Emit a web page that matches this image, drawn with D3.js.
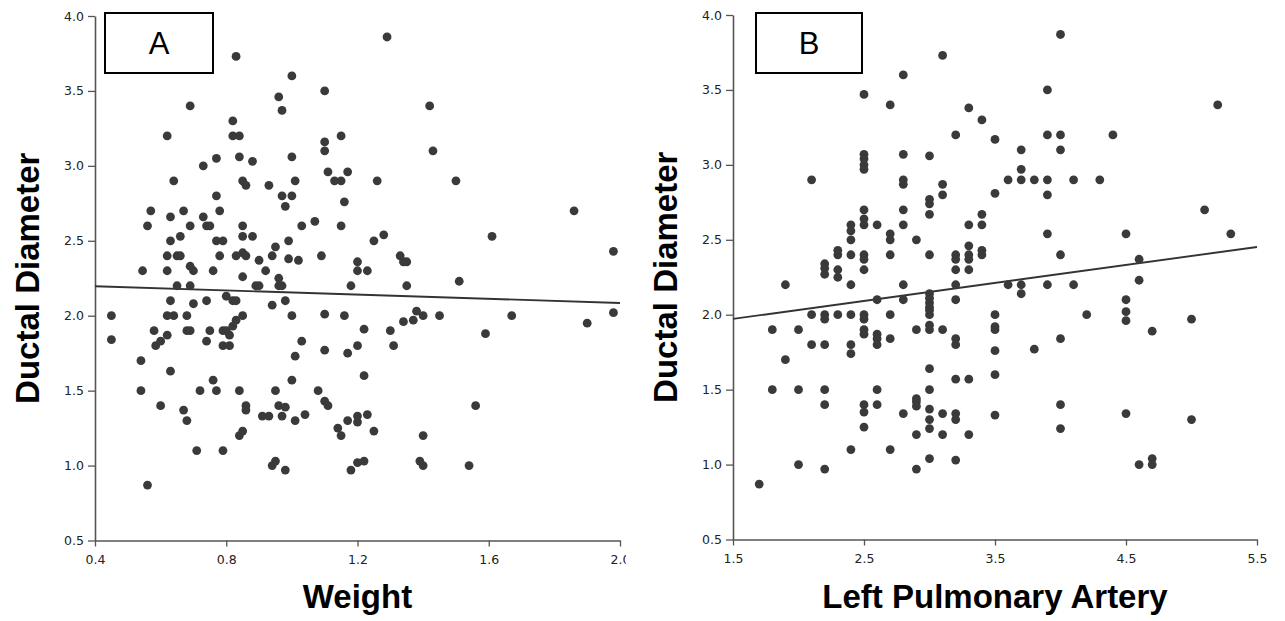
<!DOCTYPE html>
<html>
<head>
<meta charset="utf-8">
<script src="https://cdn.jsdelivr.net/npm/d3@7"></script>
<style>
body { margin: 0; background: #fff; }
svg { display: block; }
</style>
</head>
<body>
<svg width="1285" height="621"></svg>
<script>
// [x, ductal diameter]
var weightPoints = [
  [0.83,3.73],[1.00,3.60],[1.10,3.50],[0.96,3.46],[0.97,3.37],[0.69,3.40],[0.82,3.30],[0.62,3.20],[0.82,3.20],[0.84,3.20],
  [1.10,3.16],[1.10,3.10],[1.29,3.86],[1.42,3.40],[1.15,3.20],[1.43,3.10],
  [0.73,3.00],[0.77,3.05],[0.84,3.06],[0.88,3.03],[1.00,3.06],[1.11,2.96],[1.17,2.96],
  [0.64,2.90],[0.85,2.90],[0.86,2.87],[0.93,2.87],[1.01,2.90],[1.13,2.90],[1.15,2.90],[1.26,2.90],[1.50,2.90],
  [0.97,2.80],[1.00,2.80],[0.77,2.80],[0.98,2.73],[1.16,2.76],
  [0.57,2.70],[0.67,2.70],[0.78,2.70],[1.86,2.70],
  [0.56,2.60],[0.63,2.66],[0.73,2.66],[0.69,2.60],[0.74,2.60],[0.75,2.60],[0.85,2.60],[1.03,2.60],[1.07,2.63],[1.15,2.60],
  [0.63,2.50],[0.66,2.53],[0.77,2.50],[0.79,2.50],[0.85,2.53],[0.88,2.53],[0.95,2.46],[0.99,2.50],[1.28,2.54],[1.25,2.50],[1.61,2.53],
  [0.62,2.40],[0.65,2.40],[0.66,2.40],[0.69,2.33],[0.70,2.30],[0.78,2.40],[0.83,2.40],[0.85,2.42],[0.86,2.40],[0.90,2.37],
  [0.94,2.40],[0.99,2.38],[1.02,2.37],[1.09,2.40],[1.20,2.36],[1.98,2.43],[1.33,2.40],[1.34,2.36],[1.35,2.36],
  [0.545,2.30],[0.62,2.30],[0.76,2.30],[0.92,2.30],[1.20,2.30],[1.23,2.30],[0.85,2.26],[0.96,2.25],
  [0.65,2.20],[0.69,2.20],[0.89,2.20],[0.90,2.20],[0.96,2.20],[0.97,2.20],[1.18,2.20],[1.35,2.20],[1.51,2.23],
  [0.80,2.13],[0.63,2.10],[0.74,2.10],[0.82,2.10],[0.83,2.10],[0.98,2.10],[0.70,2.08],[0.94,2.07],
  [0.45,2.00],[0.62,2.00],[0.64,2.00],[0.68,2.00],[0.85,2.00],[1.00,2.00],[1.10,2.01],[1.16,2.00],[1.38,2.03],[1.40,2.00],
  [1.45,2.00],[1.67,2.00],[1.98,2.02],[1.34,1.96],[1.37,1.97],[1.90,1.95],
  [0.83,1.97],[0.82,1.93],[1.22,1.91],[1.30,1.90],[1.59,1.88],
  [0.58,1.90],[0.68,1.90],[0.69,1.90],[0.75,1.90],[0.79,1.90],[0.80,1.90],[0.62,1.87],[0.81,1.87],
  [0.45,1.84],[0.60,1.83],[0.74,1.83],[1.03,1.83],[0.585,1.80],[0.79,1.80],[0.81,1.80],[1.20,1.80],[1.31,1.80],[1.17,1.75],
  [1.10,1.77],[1.01,1.73],
  [0.54,1.70],[0.63,1.63],[1.22,1.60],[0.76,1.57],[1.00,1.57],
  [0.54,1.50],[0.72,1.50],[0.77,1.50],[0.84,1.50],[0.95,1.50],[1.08,1.50],[1.10,1.43],[1.11,1.40],[1.56,1.40],
  [0.60,1.40],[0.67,1.37],[0.68,1.30],[0.86,1.40],[0.86,1.37],[0.91,1.33],[0.93,1.33],[0.96,1.40],[0.98,1.39],[0.97,1.33],
  [1.01,1.30],[1.04,1.34],
  [0.84,1.20],[0.85,1.23],[1.14,1.25],[1.15,1.20],[1.17,1.30],[1.20,1.33],[1.20,1.29],[1.23,1.34],[1.25,1.23],[1.40,1.20],
  [0.71,1.10],[0.79,1.10],
  [0.94,1.00],[0.95,1.03],[0.98,0.97],[1.18,0.97],[1.20,1.02],[1.22,1.03],[1.39,1.03],[1.40,1.00],[1.54,1.00],
  [0.56,0.87]
];

var lpaPoints = [
  [1.7,0.87],
  [1.8,1.90],[1.8,1.50],
  [1.9,2.20],[1.9,1.70],
  [2.0,1.90],[2.0,1.50],[2.0,1.00],
  [2.1,2.90],[2.1,2.00],[2.1,1.80],
  [2.2,2.34],[2.2,2.31],[2.2,2.27],[2.2,2.00],[2.2,1.97],[2.2,1.80],[2.2,1.50],[2.2,1.40],[2.2,0.97],
  [2.3,2.43],[2.3,2.40],[2.3,2.30],[2.3,2.25],[2.3,2.00],
  [2.4,2.60],[2.4,2.56],[2.4,2.50],[2.4,2.40],[2.4,2.20],[2.4,2.00],[2.4,1.80],[2.4,1.74],[2.4,1.10],
  [2.5,3.47],[2.5,3.07],[2.5,3.04],[2.5,3.00],[2.5,2.97],[2.5,2.70],[2.5,2.64],[2.5,2.60],[2.5,2.40],[2.5,2.37],[2.5,2.30],
  [2.5,2.00],[2.5,1.97],[2.5,1.90],[2.5,1.87],[2.5,1.40],[2.5,1.35],[2.5,1.25],
  [2.6,2.60],[2.6,2.10],[2.6,1.87],[2.6,1.84],[2.6,1.80],[2.6,1.50],[2.6,1.40],
  [2.7,3.40],[2.7,2.54],[2.7,2.50],[2.7,2.40],[2.7,2.00],[2.7,1.84],[2.7,1.10],
  [2.8,3.60],[2.8,3.07],[2.8,2.90],[2.8,2.87],[2.8,2.70],[2.8,2.60],[2.8,2.20],[2.8,2.10],[2.8,1.34],
  [2.9,2.50],[2.9,1.90],[2.9,1.44],[2.9,1.42],[2.9,1.39],[2.9,1.20],[2.9,0.97],
  [3.0,3.06],[3.0,2.77],[3.0,2.74],[3.0,2.67],[3.0,2.40],[3.0,2.14],[3.0,2.11],[3.0,2.08],[3.0,2.05],[3.0,2.03],[3.0,2.00],
  [3.0,1.93],[3.0,1.90],[3.0,1.64],[3.0,1.50],[3.0,1.37],[3.0,1.30],[3.0,1.24],[3.0,1.04],
  [3.1,3.73],[3.1,2.87],[3.1,2.80],[3.1,1.90],[3.1,1.34],[3.1,1.20],
  [3.2,3.20],[3.2,2.40],[3.2,2.37],[3.2,2.30],[3.2,2.20],[3.2,2.10],[3.2,1.84],[3.2,1.80],[3.2,1.57],[3.2,1.34],[3.2,1.30],[3.2,1.03],
  [3.3,3.38],[3.3,2.60],[3.3,2.46],[3.3,2.40],[3.3,2.37],[3.3,2.30],[3.3,1.57],[3.3,1.20],
  [3.4,3.30],[3.4,2.67],[3.4,2.60],[3.4,2.43],[3.4,2.40],
  [3.5,3.17],[3.5,2.81],[3.5,2.00],[3.5,1.92],[3.5,1.90],[3.5,1.76],[3.5,1.60],[3.5,1.33],
  [3.6,2.90],[3.6,2.20],
  [3.7,3.10],[3.7,2.97],[3.7,2.90],[3.7,2.20],[3.7,2.14],
  [3.8,2.90],[3.8,1.77],
  [3.9,3.50],[3.9,3.20],[3.9,2.90],[3.9,2.80],[3.9,2.54],[3.9,2.20],
  [4.0,3.87],[4.0,3.20],[4.0,3.10],[4.0,2.40],[4.0,1.84],[4.0,1.40],[4.0,1.24],
  [4.1,2.90],[4.1,2.20],
  [4.2,2.00],
  [4.3,2.90],
  [4.4,3.20],
  [4.5,2.54],[4.5,2.10],[4.5,2.02],[4.5,1.96],[4.5,1.34],
  [4.6,2.37],[4.6,2.23],[4.6,1.00],
  [4.7,1.89],[4.7,1.04],[4.7,1.00],
  [5.0,1.97],[5.0,1.30],
  [5.1,2.70],
  [5.2,3.40],
  [5.3,2.54]
];

var diameterTicks = [0.5, 1.0, 1.5, 2.0, 2.5, 3.0, 3.5, 4.0];
var weightTicks = [0.4, 0.8, 1.2, 1.6, 2.0];
var lpaTicks = [1.5, 2.5, 3.5, 4.5, 5.5];

// fitted lines: [intercept, slope]
var weightFit = [2.225, -0.07];
var lpaFit = [1.792, 0.12];

var svg = d3.select("svg");

var panels = [
  { tag: "A", xTitle: "Weight", points: weightPoints, ticks: weightTicks, fit: weightFit,
    domain: [0.4, 2.0], left: 95, right: 620, top: 16, bottom: 540.5,
    box: [105, 13, 108, 60], yTitleX: 39, clipRight: 626 },
  { tag: "B", xTitle: "Left Pulmonary Artery", points: lpaPoints, ticks: lpaTicks, fit: lpaFit,
    domain: [1.5, 5.5], left: 733, right: 1257, top: 15, bottom: 539.5,
    box: [756, 13, 106, 60], yTitleX: 677, clipRight: 1285 }
];

panels.forEach(function(p, i) {
  svg.append("clipPath").attr("id", "clip" + i)
    .append("rect").attr("x", p.left - 100).attr("y", 0)
    .attr("width", p.clipRight - p.left + 100).attr("height", 621);

  var g = svg.append("g").attr("clip-path", "url(#clip" + i + ")");

  var x = d3.scaleLinear().domain(p.domain).range([p.left, p.right]);
  var y = d3.scaleLinear().domain([0.5, 4.0]).range([p.bottom, p.top]);

  var xAxis = g.append("g")
    .attr("transform", "translate(0," + p.bottom + ")")
    .call(d3.axisBottom(x).tickValues(p.ticks).tickFormat(d3.format(".1f")).tickSize(6).tickSizeOuter(0));

  var yAxis = g.append("g")
    .attr("transform", "translate(" + p.left + ",0)")
    .call(d3.axisLeft(y).tickValues(diameterTicks).tickFormat(d3.format(".1f")).tickSize(7).tickSizeOuter(0));

  [xAxis, yAxis].forEach(function(a) {
    a.select(".domain").attr("stroke", "#555").attr("stroke-width", 1.6);
    a.selectAll(".tick line").attr("stroke", "#555").attr("stroke-width", 1.3);
    a.selectAll(".tick text")
      .style("font-family", "'DejaVu Sans', sans-serif")
      .style("font-size", "12.5px")
      .attr("fill", "#222");
  });
  xAxis.selectAll(".tick text").attr("dy", "1.15em");
  yAxis.selectAll(".tick text").attr("x", -11);

  // regression line
  g.append("line")
    .attr("x1", x(p.domain[0])).attr("y1", y(p.fit[0] + p.fit[1] * p.domain[0]))
    .attr("x2", x(p.domain[1])).attr("y2", y(p.fit[0] + p.fit[1] * p.domain[1]))
    .attr("stroke", "#333").attr("stroke-width", 1.9);

  g.append("g").selectAll("circle")
    .data(p.points)
    .enter().append("circle")
    .attr("cx", function(d) { return x(d[0]); })
    .attr("cy", function(d) { return y(d[1]); })
    .attr("r", 4.4)
    .attr("fill", "#3a3a3a");

  // panel tag box
  g.append("rect")
    .attr("x", p.box[0]).attr("y", p.box[1])
    .attr("width", p.box[2]).attr("height", p.box[3])
    .attr("fill", "#fff").attr("stroke", "#000").attr("stroke-width", 2);
  g.append("text")
    .attr("x", p.box[0] + p.box[2] / 2).attr("y", p.box[1] + p.box[3] / 2 + 11)
    .attr("text-anchor", "middle")
    .style("font-family", "'Liberation Sans', Arial, sans-serif")
    .style("font-size", "31px")
    .text(p.tag);

  svg.append("text")
    .attr("x", (p.left + p.right) / 2).attr("y", 608)
    .attr("text-anchor", "middle")
    .style("font-family", "'Liberation Sans', Arial, sans-serif")
    .style("font-weight", "bold")
    .style("font-size", "33px")
    .text(p.xTitle);

  svg.append("text")
    .attr("transform", "translate(" + p.yTitleX + "," + (p.top + p.bottom) / 2 + ") rotate(-90)")
    .attr("text-anchor", "middle")
    .style("font-family", "'Liberation Sans', Arial, sans-serif")
    .style("font-weight", "bold")
    .style("font-size", "33px")
    .text("Ductal Diameter");
});
</script>
</body>
</html>
